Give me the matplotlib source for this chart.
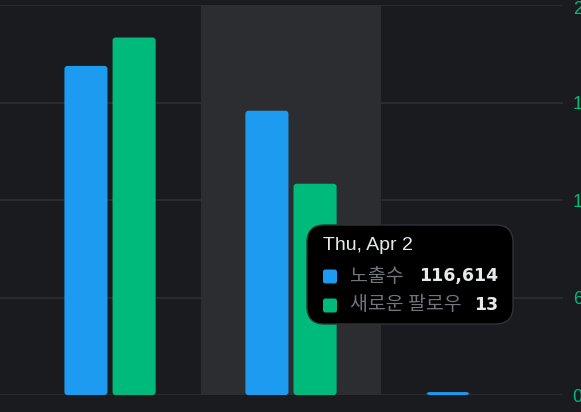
import matplotlib.pyplot as plt
from matplotlib.patches import FancyBboxPatch
from matplotlib.transforms import ScaledTranslation
import numpy as np

# data
days = ['Wed, Apr 1', 'Thu, Apr 2', 'Fri, Apr 3']
impressions = [135000, 116614, 1200]
new_follows = [22, 13, 0]
follow_ticks = [0, 6, 12, 18, 24]

bg = '#1a1b1f'
band = '#2c2d31'
grid = '#2e2f33'
blue = '#1d9bf0'
green = '#00ba7c'

W, H = 581, 412
fig = plt.figure(figsize=(W / 100, H / 100), dpi=100, facecolor=bg)
ax = fig.add_axes([0, 17 / H, 563 / W, 390 / H])
ax.set_facecolor(bg)
ax2 = ax.twinx()

x = np.arange(len(days))
w = 0.238
off = 0.133

ax.set_xlim(-0.608, 2.503)
ax.set_ylim(0, 160000)
ax2.set_ylim(0, 24)


def round_bars(a, bars, ymax):
    # swap the plain rectangles for ones with small rounded corners
    xpx = 563 / (2.503 + 0.608)
    ypx = 390 / ymax
    for p in bars:
        if p.get_height() <= 0:
            continue
        p.set_visible(False)
        rp = FancyBboxPatch((p.get_x(), p.get_y()), p.get_width(), p.get_height(),
                            boxstyle='round,pad=0,rounding_size=%f' % (3 / xpx),
                            mutation_aspect=xpx / ypx,
                            facecolor=p.get_facecolor(), lw=0, zorder=3)
        a.add_patch(rp)


b1 = ax.bar(x - off, impressions, width=w, color=blue, zorder=3)
b2 = ax2.bar(x + off, new_follows, width=w, color=green, zorder=3)
round_bars(ax, b1, 160000)
round_bars(ax2, b2, 24)

ax.axvspan(0.5, 1.5, color=band, zorder=1, lw=0)
for t in follow_ticks:
    ax.axhline(t / follow_ticks[-1] * 160000, color=grid, lw=1.2, zorder=0.5)

ax.set_xticks([])
ax.set_yticks([])
ax2.set_yticks(follow_ticks[:-1])
ax2.set_yticklabels([str(t) for t in follow_ticks[:-1]])
ax2.tick_params(axis='y', length=0, pad=7, colors=green, labelsize=13)
for lbl in ax2.get_yticklabels():
    lbl.set_family(['Liberation Sans', 'DejaVu Sans'])
# top label is pushed down a little so it stays inside the chart
top = ax2.get_yaxis_transform() + ScaledTranslation(7 / 72, -4.5 / 100,
                                                     fig.dpi_scale_trans)
ax2.text(1, follow_ticks[-1], str(follow_ticks[-1]), transform=top,
         color=green, fontsize=13, family=['Liberation Sans', 'DejaVu Sans'],
         va='center', ha='left', clip_on=False)
for a in (ax, ax2):
    for s in a.spines.values():
        s.set_visible(False)


def fx(px):
    return px / W


def fy(py):
    return 1 - py / H


# tooltip
box = FancyBboxPatch((fx(307), fy(324)), fx(513) - fx(307), fy(225) - fy(324),
                     boxstyle='round,pad=0,rounding_size=0.03',
                     transform=fig.transFigure, facecolor='#000000',
                     edgecolor='#2f3336', lw=1, zorder=10,
                     mutation_aspect=W / H)
fig.add_artist(box)

font = ['Liberation Sans', 'Noto Sans CJK KR', 'DejaVu Sans']
fig.text(fx(323), fy(246), days[1], color='#e7e9ea', fontsize=14,
         family=font, va='center', ha='left', zorder=11)

rows = [('노출수', f'{impressions[1]:,}', blue, 276),
        ('새로운 팔로우', f'{new_follows[1]:,}', green, 305)]
for name, val, c, yy in rows:
    sq = FancyBboxPatch((fx(323), fy(yy + 7.5)), fx(14), 14 / H,
                        boxstyle='round,pad=0,rounding_size=0.004',
                        transform=fig.transFigure, facecolor=c, lw=0,
                        zorder=11, mutation_aspect=W / H)
    fig.add_artist(sq)
    fig.text(fx(350), fy(yy), name, color='#71767b', fontsize=14,
             family=['Noto Sans CJK KR', 'DejaVu Sans'], va='center',
             ha='left', zorder=11)
    fig.text(fx(498), fy(yy), val, color='#e7e9ea', fontsize=12.5,
             fontweight='bold', family='DejaVu Sans', va='center',
             ha='right', zorder=11)

fig.savefig('out.png', dpi=100, facecolor=bg)
